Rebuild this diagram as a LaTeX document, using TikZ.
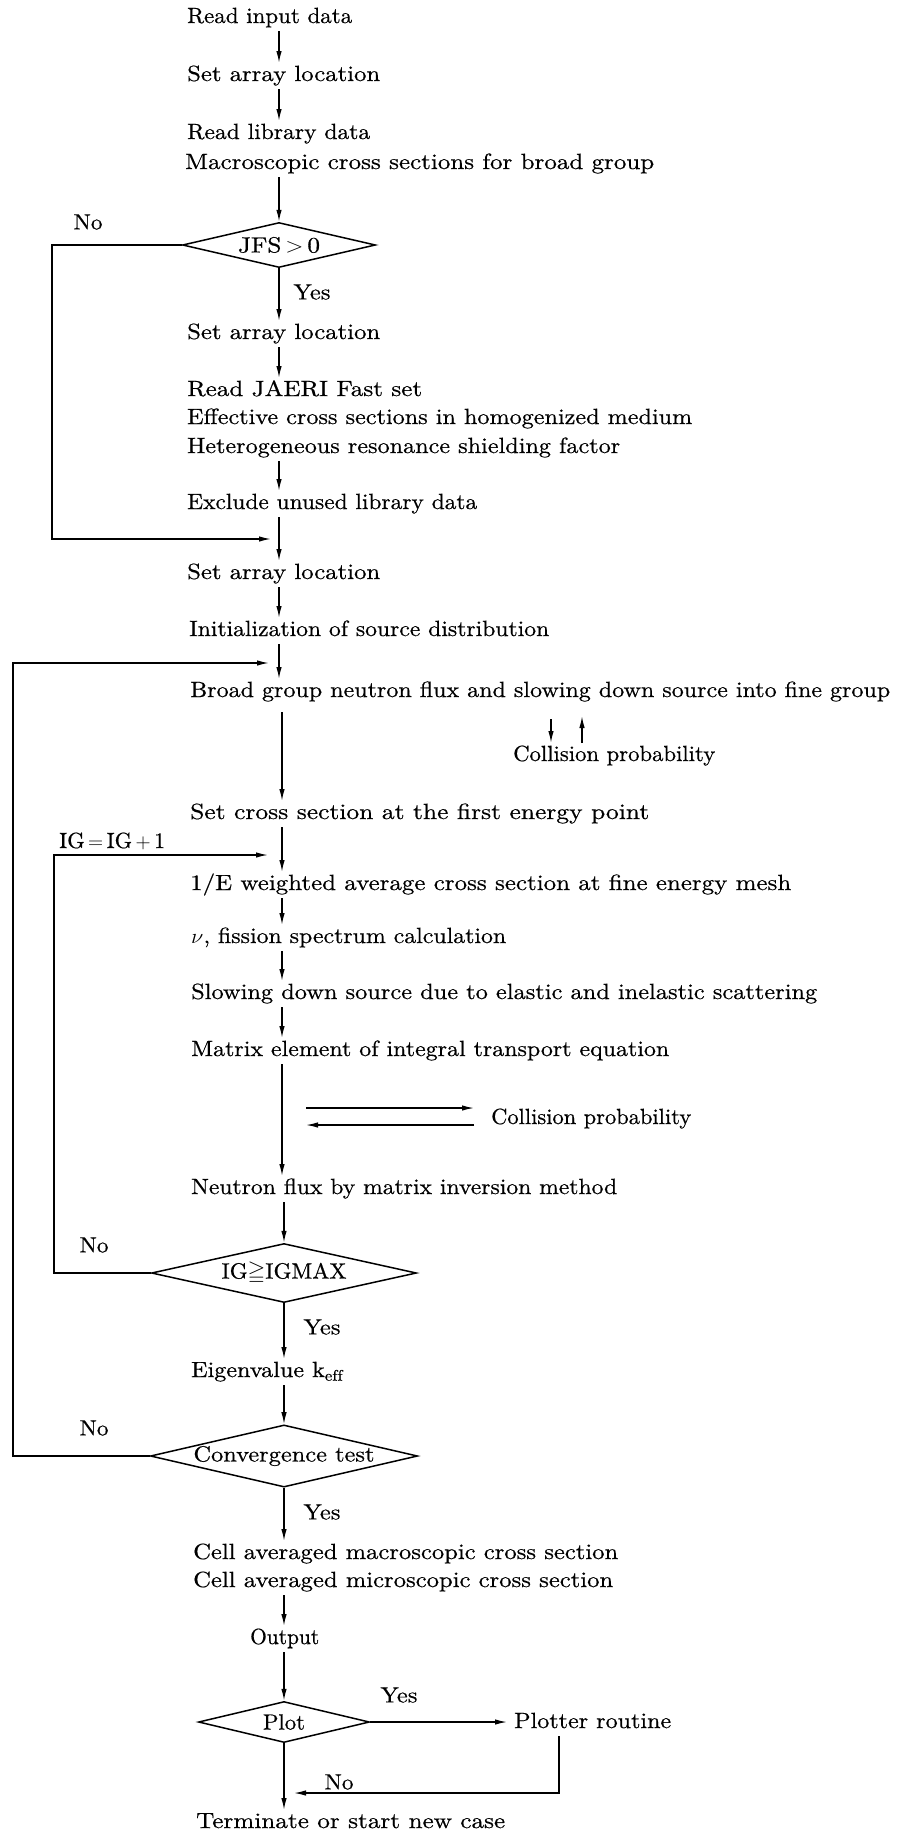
\documentclass[tikz,border=0pt]{standalone}
\usepackage{amssymb}
\usepackage{fontspec}
\setmainfont{lmroman10-regular}[Extension=.otf, FakeBold=0.5]
\usetikzlibrary{arrows.meta,shapes.geometric}
\newcommand{\txw}[2]{\resizebox{#1pt}{\height}{\strut #2}}
\newcommand{\txd}[2]{\resizebox{#1pt}{\height}{#2}}
\begin{document}
\begin{tikzpicture}[x=1pt,y=-1pt,
  every node/.style={font=\fontsize{22}{24}\selectfont, inner xsep=0pt, inner ysep=1pt},
  txt/.style={anchor=base west},
  lbl/.style={anchor=center},
  arr/.style={-{Latex[length=12pt,width=5.5pt]}, line width=1.4pt},
  dia/.style={diamond, draw, line width=1.5pt, inner sep=0pt, shape aspect=4.3}]
\fill[white] (0,0) rectangle (900,1831);
\useasboundingbox (0,0) rectangle (900,1831);
% spine coordinates
\coordinate (sA) at (279,0);
\coordinate (sB) at (282,0);
\coordinate (sC) at (284,0);
% nodes
\node[txt] (t1) at (187,23) {\txw{165}{Read input data}};
\node[txt] (t2) at (187,81) {\txw{193}{Set array location}};
\node[txt] (t3a) at (187,139) {\txw{183}{Read library data}};
\node[txt] (t3b) at (185,169) {\txw{469}{Macroscopic cross sections for broad group}};
\node[dia, minimum width=193pt, minimum height=45pt] (d1) at (279,245) {\txd{82}{JFS$\,>\,$0}};
\node[lbl] (no1) at (88,222) {\txd{29}{No}};
\node[lbl] (yes1) at (312,292) {\txd{37}{Yes}};
\node[txt] (t4) at (187,339) {\txw{193}{Set array location}};
\node[txt] (t5a) at (187,396) {\txw{235}{Read JAERI Fast set}};
\node[txt] (t5b) at (187,424) {\txw{505}{Effective cross sections in homogenized medium}};
\node[txt] (t5c) at (187,453) {\txw{433}{Heterogeneous resonance shielding factor}};
\node[txt] (t6) at (187,509) {\txw{290}{Exclude unused library data}};
\node[txt] (t7) at (187,579) {\txw{193}{Set array location}};
\node[txt] (t8) at (189,636) {\txw{360}{Initialization of source distribution}};
\node[txt] (t9) at (190,697) {\txw{700}{Broad group neutron flux and slowing down source into fine group}};
\node[txt] (cp1) at (513,761) {\txw{202}{Collision probability}};
\node[txt] (t10) at (190,819) {\txw{459}{Set cross section at the first energy point}};
\node[txt] (ig) at (59,848) {\txd{106}{IG$\,=\,$IG$\,+\,$1}};
\node[txt] (t11) at (190,890) {\txw{601}{1/E weighted average cross section at fine energy mesh}};
\node[txt] (t12) at (191,943) {\txw{315}{$\nu$, fission spectrum calculation}};
\node[txt] (t13) at (191,999) {\txw{626}{Slowing down source due to elastic and inelastic scattering}};
\node[txt] (t14) at (191,1056) {\txw{478}{Matrix element of integral transport equation}};
\node[txt] (cp2) at (491,1124) {\txw{200}{Collision probability}};
\node[txt] (t15) at (191,1194) {\txw{426}{Neutron flux by matrix inversion method}};
\node[dia, minimum width=265pt, minimum height=59pt] (d2) at (284,1273) {\txd{125}{IG$\geqq$IGMAX}};
\node[lbl] (no2) at (94,1245) {\txd{29}{No}};
\node[lbl] (yes2) at (322,1327) {\txd{37}{Yes}};
\node[txt] (t16) at (191,1377) {\txw{152}{Eigenvalue k$_{\mathrm{eff}}$}};
\node[dia, minimum width=267pt, minimum height=61pt] (d3) at (284,1456) {\txd{181}{Convergence test}};
\node[lbl] (no3) at (94,1428) {\txd{29}{No}};
\node[lbl] (yes3) at (322,1512) {\txd{37}{Yes}};
\node[txt] (t17a) at (193,1559) {\txw{425}{Cell averaged macroscopic cross section}};
\node[txt] (t17b) at (193,1587) {\txw{420}{Cell averaged microscopic cross section}};
\node[txt] (t18) at (250,1644) {\txw{69}{Output}};
\node[dia, minimum width=171pt, minimum height=41pt] (d4) at (284,1722) {\txd{42}{Plot}};
\node[lbl] (yes4) at (399,1695) {\txd{37}{Yes}};
\node[txt] (pr) at (514,1728) {\txw{157}{Plotter routine}};
\node[lbl] (no5) at (339,1782) {\txd{29}{No}};
\node[txt] (t19) at (196,1828) {\txw{309}{Terminate or start new case}};
% free-end coordinates
\coordinate (nlc) at (52,539);
\coordinate (nlt) at (271,539);
\coordinate (olc) at (13,663);
\coordinate (olt) at (269,663);
\coordinate (ilc) at (54,855);
\coordinate (ilt) at (268,855);
\coordinate (b9) at (282,712);
\coordinate (sd) at (551,719);
\coordinate (su) at (582,716);
\coordinate (ca1) at (306,1108);
\coordinate (ca2) at (474,1108);
\coordinate (cb1) at (474,1125);
\coordinate (cb2) at (306,1125);
\coordinate (pdc) at (559,1793);
\coordinate (ptc) at (294,1793);
% connectors
\draw[arr] (t1.south -| sA) -- (t2.north -| sA);
\draw[arr] (t2.south -| sA) -- (t3a.north -| sA);
\draw[arr] (t3b.south -| sA) -- (d1.north);
\draw[arr] (d1.south) -- (t4.north -| d1.south);
\draw[arr] (t4.south -| sA) -- (t5a.north -| sA);
\draw[arr] (t5c.south -| sA) -- (t6.north -| sA);
\draw[arr] (t6.south -| sA) -- (t7.north -| sA);
\draw[arr] (d1.west) -- (d1.west -| nlc) -- (nlc) -- (nlt);
\draw[arr] (t7.south -| sA) -- (t8.north -| sA);
\draw[arr] (t8.south -| sA) -- (t9.north -| sA);
\draw[arr] (d3.west) -- (d3.west -| olc) -- (olc) -- (olt);
\draw[arr] (sd) -- (cp1.north -| sd);
\draw[arr] (cp1.north -| su) -- (su);
\draw[arr] (b9) -- (t10.north -| sB);
\draw[arr] (t10.south -| sB) -- (t11.north -| sB);
\draw[arr] (d2.west) -- (d2.west -| ilc) -- (ilc) -- (ilt);
\draw[arr] (t11.south -| sB) -- (t12.north -| sB);
\draw[arr] (t12.south -| sB) -- (t13.north -| sB);
\draw[arr] (t13.south -| sB) -- (t14.north -| sB);
\draw[arr] (t14.south -| sB) -- (t15.north -| sB);
\draw[arr] (ca1) -- (ca2);
\draw[arr] (cb1) -- (cb2);
\draw[arr] (t15.south -| sC) -- (d2.north);
\draw[arr] (d2.south) -- (t16.north -| d2.south);
\draw[arr] (t16.south -| sC) -- (d3.north);
\draw[arr] (d3.south) -- (t17a.north -| d3.south);
\draw[arr] (t17b.south -| sC) -- (t18.north -| sC);
\draw[arr] (t18.south -| sC) -- (d4.north);
\draw[arr, shorten >=7pt] (d4.east) -- (pr.west |- d4.east);
\draw[arr] (pr.south -| pdc) -- (pdc) -- (ptc);
\draw[arr] (d4.south) -- (t19.north -| d4.south);
\end{tikzpicture}
\end{document}
